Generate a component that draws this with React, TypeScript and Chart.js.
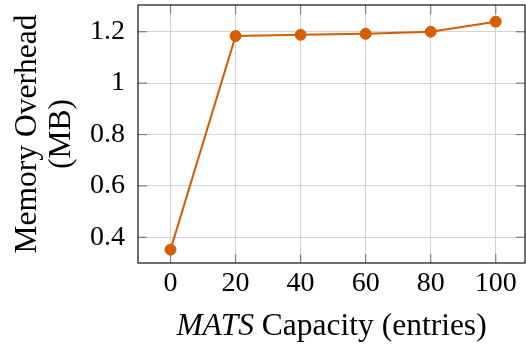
import React, { useEffect, useRef } from 'react';
import { Chart, registerables } from 'chart.js';

Chart.register(...registerables);

// ---- data ----
const CAPACITY = [0, 20, 40, 60, 80, 100];
const OVERHEAD_MB = [0.352, 1.183, 1.188, 1.192, 1.2, 1.239];
const X_TICKS = [0, 20, 40, 60, 80, 100];
const Y_TICKS = [0.4, 0.6, 0.8, 1.0, 1.2];
const Y_TICK_LABELS = ['0.4', '0.6', '0.8', '1', '1.2'];
const X_TITLE_ITALIC = 'MATS';
const X_TITLE_REST = ' Capacity (entries)';
const Y_TITLE = ['Memory Overhead', '(MB)'];

const SERIES_COLOR = '#D55E00';
const FONT = '"Liberation Serif", "Times New Roman", serif';
const TICK_SIZE = 28;
const TITLE_SIZE = 31.5;

const framePlugin = {
  id: 'frame',
  beforeDatasetsDraw(chart: any) {
    const { ctx, chartArea: a, scales } = chart;
    const L = 9;
    ctx.save();
    ctx.strokeStyle = '#808080';
    ctx.lineWidth = 1.2;
    const seg = (x1: number, y1: number, x2: number, y2: number) => {
      ctx.beginPath();
      ctx.moveTo(x1, y1);
      ctx.lineTo(x2, y2);
      ctx.stroke();
    };
    for (const v of X_TICKS) {
      const x = scales.x.getPixelForValue(v);
      seg(x, a.top, x, a.top + L);
      seg(x, a.bottom, x, a.bottom - L);
    }
    for (const v of Y_TICKS) {
      const y = scales.y.getPixelForValue(v);
      seg(a.left, y, a.left + L, y);
      seg(a.right, y, a.right - L, y);
    }
    ctx.strokeStyle = '#111';
    ctx.lineWidth = 1.2;
    ctx.strokeRect(a.left, a.top, a.right - a.left, a.bottom - a.top);
    ctx.restore();
  },
  afterDraw(chart: any) {
    const { ctx, chartArea: a } = chart;
    ctx.save();
    ctx.fillStyle = '#000';
    ctx.textBaseline = 'alphabetic';
    ctx.textAlign = 'left';
    const italic = `italic ${TITLE_SIZE}px ${FONT}`;
    const normal = `${TITLE_SIZE}px ${FONT}`;
    ctx.font = italic;
    const w1 = ctx.measureText(X_TITLE_ITALIC).width;
    ctx.font = normal;
    const w2 = ctx.measureText(X_TITLE_REST).width;
    const cx = (a.left + a.right) / 2;
    const x0 = cx - (w1 + w2) / 2;
    const y = 335;
    ctx.font = italic;
    ctx.fillText(X_TITLE_ITALIC, x0, y);
    ctx.font = normal;
    ctx.fillText(X_TITLE_REST, x0 + w1, y);
    ctx.restore();
  },
};

export default function App() {
  const ref = useRef<HTMLCanvasElement>(null);

  useEffect(() => {
    const canvas = ref.current;
    if (!canvas) return;
    const chart = new Chart(canvas, {
      type: 'line',
      data: {
        datasets: [
          {
            data: CAPACITY.map((x, i) => ({ x, y: OVERHEAD_MB[i] })),
            borderColor: SERIES_COLOR,
            backgroundColor: SERIES_COLOR,
            borderWidth: 2,
            pointRadius: 5.5,
            pointBorderWidth: 1,
            pointBackgroundColor: SERIES_COLOR,
            pointBorderColor: SERIES_COLOR,
            tension: 0,
            fill: false,
          },
        ],
      },
      options: {
        animation: false,
        responsive: false,
        devicePixelRatio: 1,
        layout: { autoPadding: false, padding: { top: 5, right: 1, left: 0, bottom: 0 } },
        plugins: {
          legend: { display: false },
          tooltip: { enabled: false },
        },
        scales: {
          x: {
            type: 'linear',
            min: -10,
            max: 109,
            afterBuildTicks: (s: any) => {
              s.ticks = X_TICKS.map((v) => ({ value: v }));
            },
            afterFit: (s: any) => {
              s.height = 84;
              s.paddingLeft = 0;
              s.paddingRight = 0;
            },
            grid: { color: '#d4d4d4', lineWidth: 1, drawTicks: false },
            border: { display: false },
            ticks: {
              color: '#000',
              padding: 4,
              font: { family: FONT, size: TICK_SIZE },
              maxRotation: 0,
              autoSkip: false,
              callback: (v: any) => String(v),
            },
          },
          y: {
            type: 'linear',
            min: 0.3,
            max: 1.304,
            afterBuildTicks: (s: any) => {
              s.ticks = Y_TICKS.map((v) => ({ value: v }));
            },
            afterFit: (s: any) => {
              s.width = 138;
              s.paddingTop = 0;
              s.paddingBottom = 0;
            },
            grid: { color: '#d4d4d4', lineWidth: 1, drawTicks: false },
            border: { display: false },
            ticks: {
              color: '#000',
              padding: 13,
              font: { family: FONT, size: TICK_SIZE },
              autoSkip: false,
              callback: (_v: any, i: number) => Y_TICK_LABELS[i],
            },
            title: {
              display: true,
              text: Y_TITLE,
              color: '#000',
              font: { family: FONT, size: TITLE_SIZE, lineHeight: 34.5 / 31.5 },
              padding: { top: 10, bottom: 0 },
            },
          },
        },
      },
      plugins: [framePlugin],
    });
    return () => chart.destroy();
  }, []);

  return (
    <div style={{ position: 'fixed', left: 0, top: 0, width: 526, height: 347, background: '#fff' }}>
      <canvas ref={ref} width={526} height={347} style={{ display: 'block', width: 526, height: 347 }} />
    </div>
  );
}
